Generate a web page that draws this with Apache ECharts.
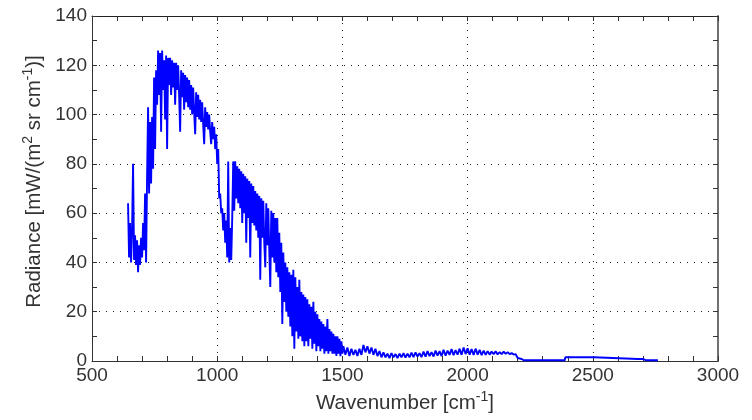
<!DOCTYPE html>
<html>
<head>
<meta charset="utf-8">
<script src="https://cdn.jsdelivr.net/npm/echarts@6/dist/echarts.min.js"></script>
<style>html,body{margin:0;padding:0;background:#fff}#chart{width:752px;height:420px}</style>
</head>
<body>
<div id="chart"></div>
<script>
// Spectrum band 1: 644 .. 1500 cm-1, sampled every 4 cm-1 (radiance, mW/(m2 sr cm-1))
const bandA_start = 644;
const bandA_step = 4;
const bandA_radiance = [
  64, 42, 56, 40, 53, 80, 41, 51, 39, 49,
  36, 47, 39, 50, 42, 56, 45, 68, 40, 75,
  103, 68, 97, 72, 99, 78, 115, 86, 118, 104,
  126, 108, 125, 93, 126, 110, 122, 98, 124, 86,
  123, 112, 123, 108, 122, 111, 121, 104, 121, 110,
  120, 108, 93, 118, 107, 117, 102, 116, 105, 115,
  103, 114, 102, 112, 100, 111, 101, 92, 109, 99,
  108, 98, 106, 97, 105, 96, 88, 103, 95, 101,
  94, 100, 93, 88, 97, 90, 95, 86, 92, 80,
  86, 66, 68, 60, 62, 53, 60, 48, 57, 42,
  81, 40, 54, 41, 58, 81, 61, 81, 66, 79,
  64, 78, 62, 77, 56, 76, 60, 75, 48, 74,
  58, 73, 42, 72, 56, 71, 55, 69, 53, 68,
  50, 67, 33, 66, 50, 65, 48, 38, 64, 47,
  62, 45, 30, 61, 42, 60, 40, 58, 36, 58,
  34, 52, 28, 48, 15, 44, 24, 40, 20, 38,
  18, 36, 14, 35, 10, 37, 5, 34, 12, 30,
  9, 33, 10, 28, 8, 27, 6, 26, 8, 25,
  6, 23, 9, 22, 5, 24, 7, 20, 4, 19,
  6, 17, 4, 16, 5, 15, 3, 14, 4, 17,
  3, 13, 4, 12, 3, 11, 3, 10, 2, 10,
  3, 9, 2, 8, 3
];
// Spectrum band 2: 1504 .. 2224 cm-1, sampled every 8 cm-1
const bandB_start = 1504;
const bandB_step = 8;
const bandB_radiance = [
  6, 2.5, 5.5, 2, 5, 2.5, 4.5, 2, 5, 2.5,
  6.5, 3.5, 6, 3, 5.5, 2.5, 5, 2, 4, 1.5,
  3.5, 1.5, 3, 1.2, 3.2, 1.5, 2.8, 1.2, 3, 1.5,
  3.2, 1.4, 3, 1.5, 3.4, 1.6, 3.5, 1.8, 3.2, 1.6,
  3.8, 1.8, 4, 2, 3.6, 1.8, 4.2, 2.2, 4, 2,
  4.5, 2.2, 4.2, 2.5, 4.8, 2.4, 4.4, 2.6, 5, 2.5,
  5.5, 2.8, 5.2, 2.6, 4.8, 2.5, 5, 2.6, 4.5, 2.4,
  4.2, 2.5, 4, 2.6, 3.8, 2.8, 3.9, 2.7, 3.6, 2.8,
  3.8, 2.9, 3.6, 2.8, 3.2, 2.6, 2.8, 1.2, 1.0, 0.8,
  0.3
];
// Tail of the spectrum (irregular samples)
const tailWavenumber = [2232, 2388, 2390, 2505, 2508, 2680, 2681, 2684, 2690, 2691, 2694, 2702, 2704, 2708, 2712, 2760];
const tailRadiance   = [0.3, 0.3, 1.5, 1.5, 0.8, 0.8, 0.3, 0.8, 0.8, 0.3, 0.8, 0.8, 1.2, 0.8, 0.3, 0.3];

const xTicks = [500, 1000, 1500, 2000, 2500, 3000];
const yTicks = [0, 20, 40, 60, 80, 100, 120, 140];

const spectrum = [];
bandA_radiance.forEach((v, i) => spectrum.push([bandA_start + i * bandA_step, v]));
bandB_radiance.forEach((v, i) => spectrum.push([bandB_start + i * bandB_step, v]));
tailWavenumber.forEach((w, i) => spectrum.push([w, tailRadiance[i]]));

const FONT = 'Liberation Sans';
const AX = '#333333';
const supRich = {
  base: { fontSize: 20.5, fontFamily: FONT, color: AX, lineHeight: 26 },
  sup: { fontSize: 14, fontFamily: FONT, color: AX, verticalAlign: 'top', lineHeight: 26 }
};

function xAx(pos) {
  const bottom = pos === 'bottom';
  return {
    type: 'value', position: pos,
    min: xTicks[0], max: xTicks[xTicks.length - 1], interval: 500,
    axisLine: { show: true, onZero: false, lineStyle: { color: bottom ? AX : '#222', width: 1 } },
    axisTick: { show: true, inside: true, length: 5, lineStyle: { color: AX } },
    minorTick: { show: true, splitNumber: 5, length: 5, lineStyle: { color: AX } },
    splitLine: { show: bottom, lineStyle: { color: '#222', width: 1, type: [1, 6] } },
    axisLabel: { show: bottom, fontSize: 19, fontFamily: FONT, color: AX, margin: 5,
      formatter: v => String(v) },
    name: bottom ? '{base|Wavenumber [cm}{sup|-1}{base|]}' : '',
    nameLocation: 'middle', nameGap: 29,
    nameTextStyle: { rich: supRich }
  };
}
function yAx(pos) {
  const left = pos === 'left';
  return {
    type: 'value', position: pos,
    min: yTicks[0], max: yTicks[yTicks.length - 1], interval: 20,
    axisLine: { show: true, onZero: false, lineStyle: { color: left ? AX : '#707070', width: left ? 1 : 2 } },
    axisTick: { show: true, inside: true, length: 5, lineStyle: { color: AX } },
    minorTick: { show: true, splitNumber: 2, length: 5, lineStyle: { color: AX } },
    splitLine: { show: left, lineStyle: { color: '#222', width: 1, type: [1, 6] } },
    axisLabel: { show: left, fontSize: 19, fontFamily: FONT, color: AX, margin: 5,
      formatter: v => String(v) },
    name: left ? '{base|Radiance [mW/(m}{sup|2}{base| sr cm}{sup|-1}{base|)]}' : '',
    nameLocation: 'middle', nameGap: 24,
    nameTextStyle: { rich: supRich, padding: [0, 0, 0, 14] }
  };
}

const chart = echarts.init(document.getElementById('chart'), null, { renderer: 'canvas' });
chart.setOption({
  animation: false,
  backgroundColor: '#ffffff',
  grid: { left: 92, right: 34, top: 16, bottom: 59, containLabel: false },
  xAxis: [xAx('bottom'), xAx('top')],
  yAxis: [yAx('left'), yAx('right')],
  series: [{
    type: 'line', xAxisIndex: 0, yAxisIndex: 0,
    data: spectrum, showSymbol: false, symbol: 'none',
    lineStyle: { color: '#0000ff', width: 1.9 },
    z: 1
  }]
});
</script>
</body>
</html>
